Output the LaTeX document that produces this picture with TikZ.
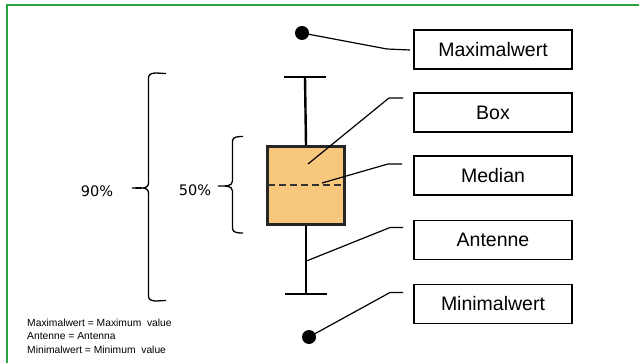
\documentclass[tikz,border=0pt]{standalone}
\usepackage{fontspec}
\setmainfont{Liberation Sans}
\newfontfamily\pctfont{DejaVu Sans}
\definecolor{frame}{RGB}{40,165,60}
\definecolor{boxfill}{RGB}{248,199,126}
\begin{document}
\begin{tikzpicture}[x=1pt,y=-1pt,
  label box/.style={draw,line width=1.2pt,minimum width=158pt,minimum height=39pt,inner sep=0pt,font=\fontsize{19.5}{21}\selectfont},
  leader/.style={line width=1.2pt},
  whisker/.style={line width=2.4pt},
  brace/.style={line width=1.3pt},
  dot/.style={circle,fill=black,inner sep=0pt,minimum size=14pt},
  pct/.style={font=\pctfont\fontsize{14.5}{16}\selectfont}]
\useasboundingbox (0,0) rectangle (639,363);
\fill[white] (0,0) rectangle (639,363);
% green frame (top and left visible)
\draw[frame,line width=2.5pt] (7,363) -- (7,5) -- (639,5);

% labels
\node[label box] (maxl) at (493,49.5) {Maximalwert};
\node[label box] (boxl) at (493,112.5) {Box};
\node[label box] (medl) at (493,175.5) {Median};
\node[label box] (antl) at (493,240) {Antenne};
\node[label box] (minl) at (493,304) {Minimalwert};

% boxplot
\coordinate (wtop) at (305,77);
\coordinate (wbot) at (306,294);
\node[draw=black!85,line width=2.6pt,fill=boxfill,minimum width=77pt,minimum height=78pt,inner sep=0pt] (bx) at (306,185.5) {};
\draw[whisker] (wtop) -- (bx.north);
\draw[whisker] (bx.south) -- (wbot);
\draw[whisker] ([xshift=-21pt]wtop) -- ([xshift=21pt]wtop);
\draw[whisker] ([xshift=-21pt]wbot) -- ([xshift=21pt]wbot);
\draw[line width=2.2pt,dash pattern=on 7pt off 4pt,black!80] ([xshift=2pt]bx.west |- 0,185) -- ([xshift=-2pt]bx.east |- 0,185);

\node[dot] (topdot) at (302,33) {};
\node[dot] (botdot) at (309,337) {};

% leaders
\coordinate (b1) at (387,49);
\coordinate (e1) at (410,50);
\draw[leader] (topdot.center) -- (b1) -- (e1);
\coordinate (s2) at (308,164);
\coordinate (b2) at (389,98);
\coordinate (e2) at (403,98);
\draw[leader] (s2) -- (b2) -- (e2);
\coordinate (s3) at (322,183);
\coordinate (b3) at (388,164);
\coordinate (e3) at (402,164);
\draw[leader] (s3) -- (b3) -- (e3);
\coordinate (s4) at (306.5,261);
\coordinate (b4) at (390,227.5);
\coordinate (e4) at (403,227.5);
\draw[leader] (s4) -- (b4) -- (e4);
\coordinate (b5) at (390,292.5);
\coordinate (e5) at (403,292.5);
\draw[leader] (botdot.center) -- (b5) -- (e5);

% braces
\draw[brace] (166,73.5) to[out=180,in=90] (148.5,78) -- (148.5,183) to[out=-90,in=0] (132,188) to[out=0,in=90] (148.5,193) -- (148.5,296) to[out=-90,in=180] (166,300.5);
\draw[brace] (243,136.5) to[out=180,in=90] (232.5,141) -- (232.5,181) to[out=-90,in=0] (218,186) to[out=0,in=90] (232.5,191) -- (232.5,228.5) to[out=-90,in=180] (243,233);
\node[pct] (p90) at (97,191) {90\%};
\node[pct] (p50) at (195,190) {50\%};

% legend
\node[anchor=north west,align=left,inner sep=0pt,font=\fontsize{10.3}{13.5}\selectfont] (legend) at (27,318.5)
 {Maximalwert = Maximum\ \ value\\Antenne = Antenna\\Minimalwert = Minimum\ \ value};
\end{tikzpicture}
\end{document}
